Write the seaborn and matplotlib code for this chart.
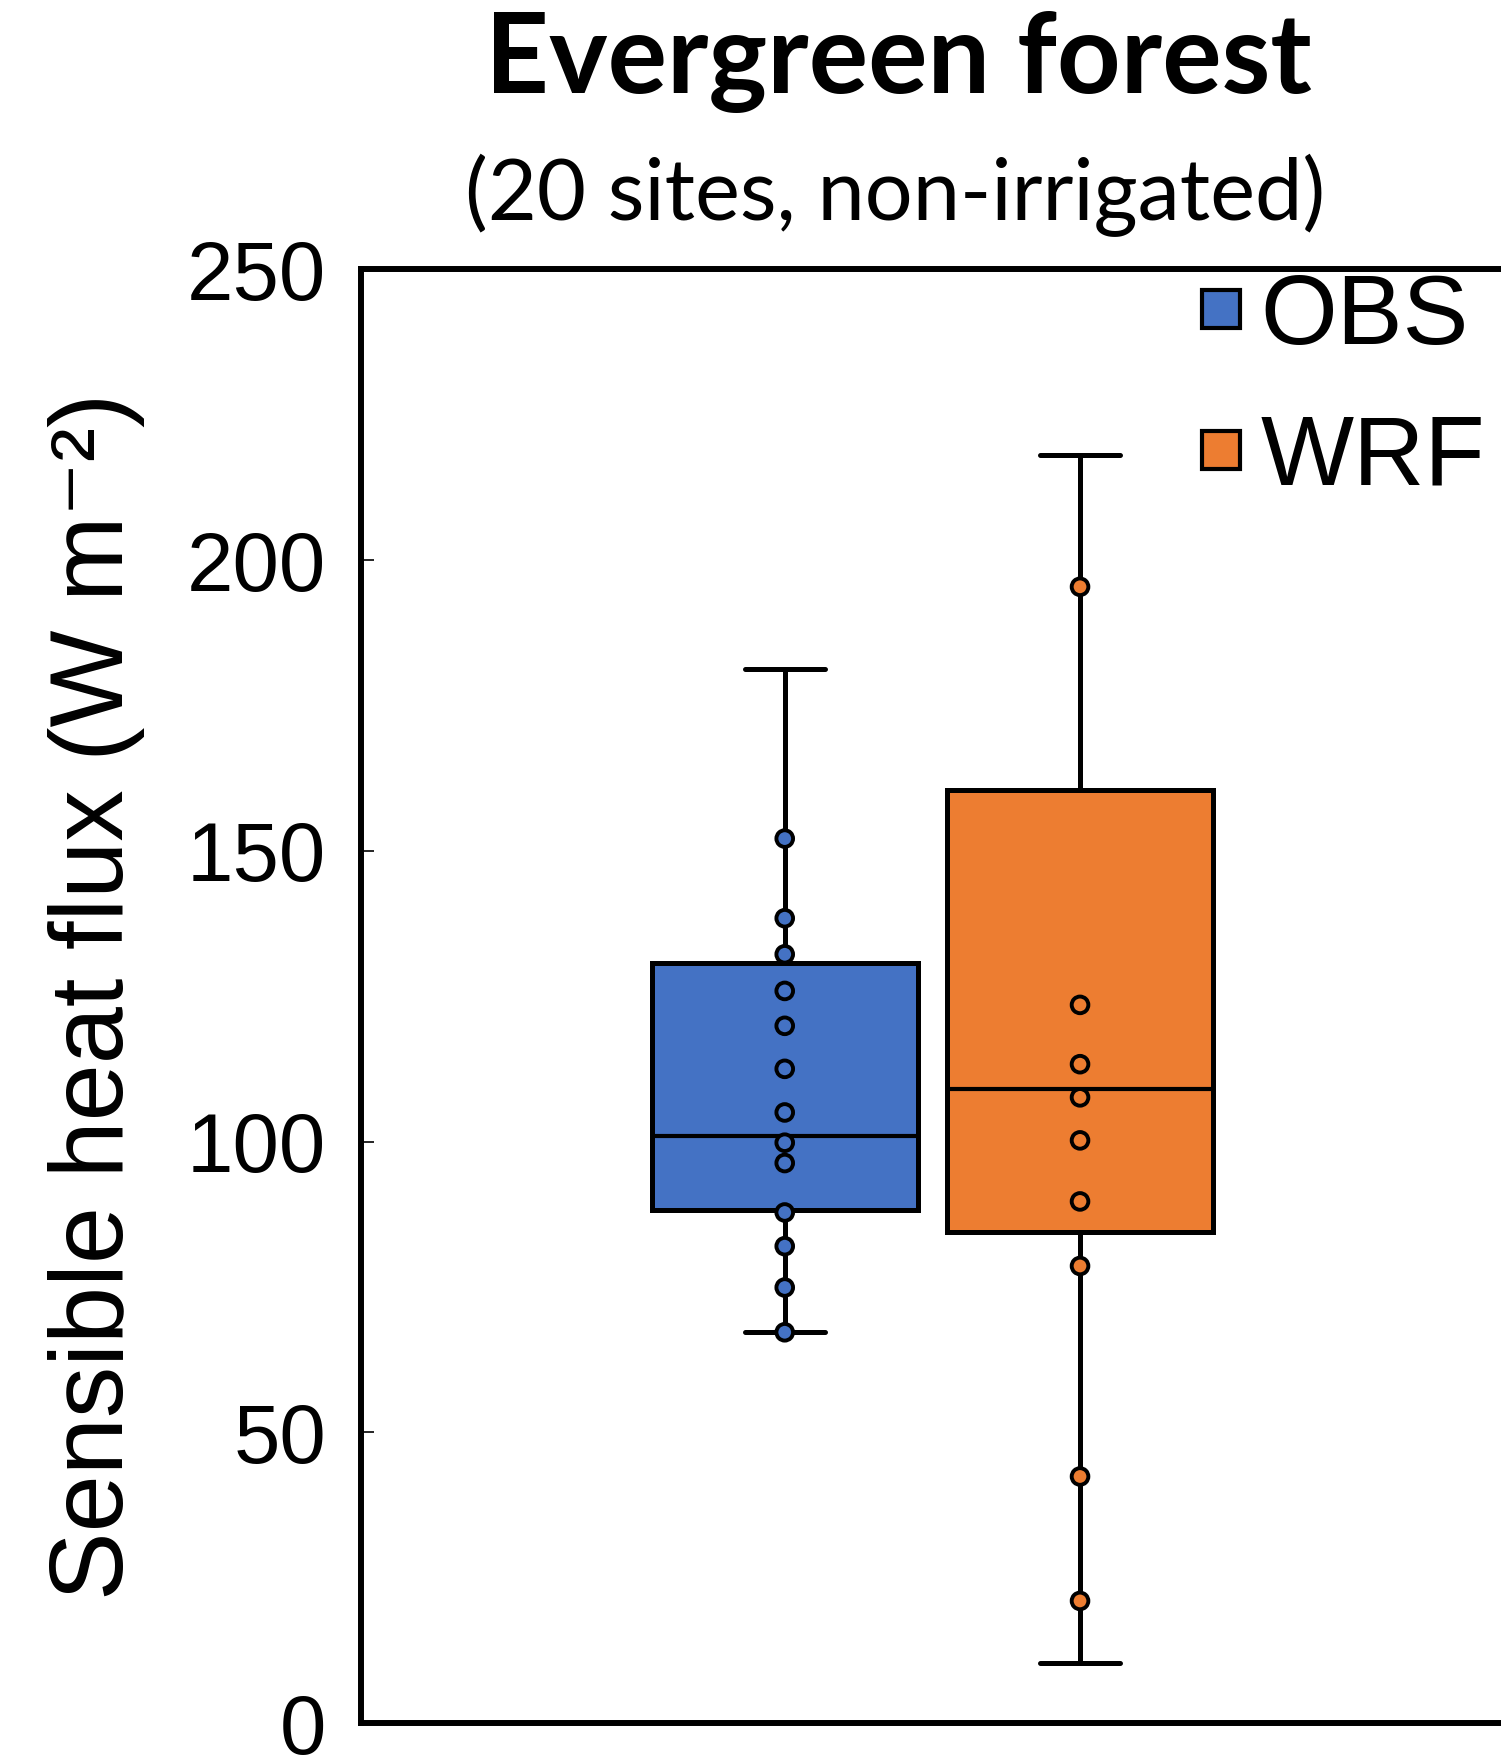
import matplotlib
matplotlib.use('Agg')

import matplotlib.pyplot as plt
from matplotlib.lines import Line2D
import numpy as np
import pandas as pd
import seaborn as sns

# === Data ===
groups = ["OBS", "WRF"]
colors = {"OBS": "#4472C4", "WRF": "#ED7D31"}

# five-number summaries: whisker low, Q1, median, Q3, whisker high
obs_summary = [67.2, 88.2, 101.0, 130.7, 181.3]
wrf_summary = [10.4, 84.4, 109.1, 160.4, 218.0]

# individual site values shown as dots
obs_points = [152.1, 138.4, 132.2, 125.9, 119.9, 112.5, 105.0, 99.8, 96.3,
              87.8, 82.0, 74.9, 67.2]
wrf_points = [195.4, 123.5, 113.3, 107.6, 100.2, 89.7, 78.6, 42.4, 21.0]

y_ticks = [0, 50, 100, 150, 200, 250]

box_df = pd.DataFrame({
    "group": ["OBS"] * len(obs_summary) + ["WRF"] * len(wrf_summary),
    "value": obs_summary + wrf_summary,
})
pts_df = pd.DataFrame({
    "group": ["OBS"] * len(obs_points) + ["WRF"] * len(wrf_points),
    "value": obs_points + wrf_points,
})

# === Figure ===
sns.set_style("white")
plt.rcParams['font.family'] = ['Liberation Sans', 'DejaVu Sans']
plt.rcParams['text.color'] = 'black'
plt.rcParams['axes.labelcolor'] = 'black'
plt.rcParams['ytick.color'] = 'black'

fig = plt.figure(figsize=(15.01, 17.6), dpi=100)
ax = fig.add_axes([0.2405, 0.021, 0.8725, 0.826])

sns.boxplot(data=box_df, x="group", y="value", hue="group", order=groups,
            hue_order=groups, palette=colors, saturation=1, width=0.9,
            whis=(0, 100), showfliers=False, linecolor="black", linewidth=3.6,
            medianprops={"linewidth": 3.0}, capwidths=0.27,
            legend=False, ax=ax)

sns.stripplot(data=pts_df, x="group", y="value", hue="group", order=groups,
              hue_order=groups, palette=colors, jitter=False, size=12,
              edgecolor="black", linewidth=2.8, legend=False, ax=ax, zorder=5)

ax.set_xlim(-1.435, 3.0)
ax.set_ylim(0, 250)
ax.set_yticks(y_ticks)
ax.set_xticks([])
ax.set_xlabel("")
ax.set_ylabel("Sensible heat flux (W m\u207b\u00b2)", fontsize=74)
ax.yaxis.set_label_coords(-0.165, 0.5)
ax.tick_params(axis="y", direction="in", length=9, width=1.2, pad=25,
               labelsize=60, left=True, colors="black")

for side in ["left", "top", "bottom", "right"]:
    ax.spines[side].set_linewidth(4.3)
    ax.spines[side].set_color("black")

# legend
handles = [Line2D([], [], marker="s", linestyle="", markersize=28,
                  markerfacecolor=colors[g], markeredgecolor="black",
                  markeredgewidth=3) for g in groups]
fig.legend(handles, groups, loc="upper left", bbox_to_anchor=(0.797, 0.845),
           frameon=False, fontsize=71, borderpad=0, borderaxespad=0,
           handlelength=0.5, handletextpad=0.15, labelspacing=0.5)

# titles
fig.text(898 / 1501, 1 - 62 / 1760, "Evergreen forest", ha="center",
         va="center", fontsize=80, fontweight="bold", family=["Lato", "DejaVu Sans"])
fig.text(895 / 1501, 1 - 195 / 1760, "(20 sites, non-irrigated)", ha="center",
         va="center", fontsize=61, family=["Lato", "DejaVu Sans"])

plt.savefig("out.png", dpi=100)
